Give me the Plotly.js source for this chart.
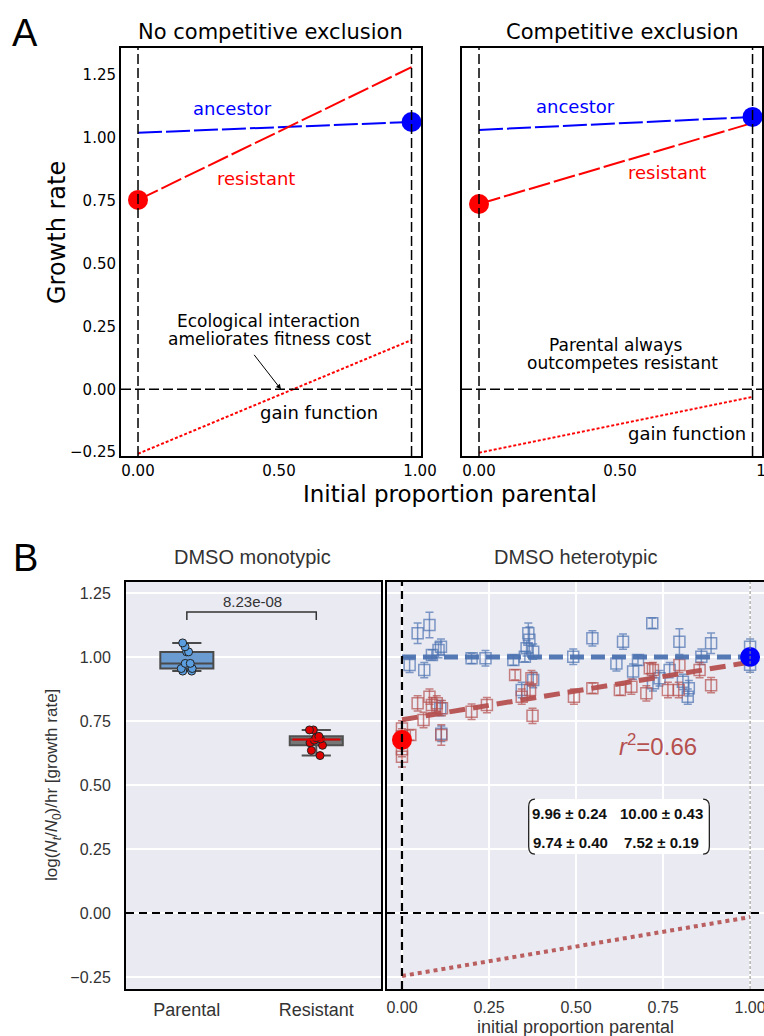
<!DOCTYPE html>
<html><head><meta charset="utf-8">
<script src="https://cdn.plot.ly/plotly-3.0.1.min.js"></script>
<style>html,body{margin:0;padding:0;background:#fff}#chart{width:764px;height:1036px}</style>
</head><body><div id="chart"></div>
<script>
// ---------------- DATA ----------------
// Panel A (schematic) : x positions of the two endpoints (initial proportion parental)
const A_x = [0, 0.97];
// A left: No competitive exclusion
const A1_ancestor = [1.02, 1.063];
const A1_resistant = [0.753, 1.281];
const A1_gain = [-0.256, 0.196];
// A right: Competitive exclusion
const A2_ancestor = [1.031, 1.083];
const A2_resistant = [0.737, 1.059];
const A2_gain = [-0.252, -0.030];

// Panel B left: monotypic growth rates
const monoCategories = ['Parental', 'Resistant'];
const parentalVals = [1.055, 1.04, 1.02, 1.02, 0.975, 0.975, 0.955, 0.955, 0.945, 0.945];
const resistantVals = [0.715, 0.715, 0.69, 0.685, 0.68, 0.675, 0.665, 0.655, 0.635, 0.615];
const pValueText = '8.23e-08';
const bracketY = [1.145, 1.176];

// Panel B right: heterotypic growth rates
const blueX = [0.045,0.079,0.022,0.064,0.086,0.105,0.112,0.110,0.200,0.240,0.320,0.363,0.366,0.358,0.377,0.353,0.377,0.344,0.492,0.547,0.635,0.616,0.664,0.678,0.719,0.721,0.769,0.797,0.807,0.824,0.821,0.860,0.888,1.0,1.0,1.0,0.740,0.113];
const blueY = [1.093,1.125,0.969,0.949,1.008,1.027,1.040,0.800,0.995,0.995,0.988,1.093,1.067,1.034,1.021,1.001,0.910,0.871,1.001,1.073,1.060,0.975,0.943,0.988,1.132,0.897,0.949,1.060,0.903,0.878,0.845,1.001,1.054,1.040,1.000,0.970,0.917,0.700];
const blueErr = [0.04,0.05,0.03,0.03,0.02,0.03,0.03,0.03,0.02,0.03,0.02,0.04,0.05,0.03,0.03,0.02,0.03,0.03,0.03,0.03,0.03,0.03,0.03,0.02,0.02,0.03,0.03,0.05,0.03,0.03,0.03,0.03,0.04,0.03,0.03,0.03,0.03,0.03];
const redX = [0.0,0.0,0.0,0.0,0.024,0.045,0.079,0.062,0.086,0.100,0.115,0.113,0.200,0.244,0.325,0.344,0.372,0.368,0.375,0.494,0.547,0.626,0.659,0.702,0.712,0.721,0.764,0.797,0.795,0.855,0.888];
const redY = [0.721,0.690,0.640,0.610,0.695,0.819,0.845,0.754,0.812,0.819,0.800,0.695,0.786,0.812,0.930,0.845,0.917,0.871,0.770,0.845,0.878,0.871,0.884,0.858,0.956,0.949,0.871,0.969,0.871,0.949,0.890];
const redErr = [0.03,0.03,0.03,0.04,0.02,0.03,0.03,0.03,0.03,0.03,0.03,0.04,0.03,0.03,0.02,0.03,0.03,0.03,0.03,0.03,0.02,0.02,0.03,0.03,0.02,0.03,0.03,0.03,0.03,0.03,0.03];
const B_fitX = [0, 1];
const B_fitBlue = [1.0, 1.0];
const B_fitRed = [0.755, 0.98];
const B_gain = [-0.246, -0.016];
const B_markerX = [0, 1];
const B_markerY = [0.676, 1.0];
const r2Text = '<i>r</i><sup>2</sup>=0.66';
const matrixText = [['9.96 ± 0.24', '10.00 ± 0.43'], ['9.74 ± 0.40', '7.52 ± 0.19']];

const yTicksA = [-0.25, 0, 0.25, 0.5, 0.75, 1.0, 1.25];
const yTicksB = [-0.25, 0, 0.25, 0.5, 0.75, 1.0, 1.25];
const xTicksA1 = ['0.00', '0.50', '1.00'];
const xTicksA2 = ['0.00', '0.50', '1'];
const xTicksB = [0, 0.25, 0.5, 0.75, 1.0];

// ---------------- LAYOUT HELPERS ----------------
const W = 764, H = 1036;
const px = x => x / W;
const py = y => 1 - y / H;
const DJ = 'DejaVu Sans';
const LS = 'Liberation Sans, Arial, sans-serif';
const blueC = 'rgba(76,114,176,0.7)';
const redC = 'rgba(181,80,79,0.7)';

const traces = [];
// ----- Panel A left -----
traces.push({x: A_x, y: A1_ancestor, xaxis: 'x', yaxis: 'y', mode: 'lines', line: {color: '#0000ff', width: 2, dash: '24px,4px'}, showlegend: false, hoverinfo: 'skip'});
traces.push({x: A_x, y: A1_resistant, xaxis: 'x', yaxis: 'y', mode: 'lines', line: {color: '#ff0000', width: 2, dash: '22px,4px'}, showlegend: false, hoverinfo: 'skip'});
traces.push({x: A_x, y: A1_gain, xaxis: 'x', yaxis: 'y', mode: 'lines', line: {color: '#ff0000', width: 2, dash: '3px,2px'}, showlegend: false, hoverinfo: 'skip'});
traces.push({x: [A_x[0]], y: [A1_resistant[0]], xaxis: 'x', yaxis: 'y', mode: 'markers', marker: {color: '#ff0000', size: 20}, showlegend: false, hoverinfo: 'skip', cliponaxis: false});
traces.push({x: [A_x[1]], y: [A1_ancestor[1]], xaxis: 'x', yaxis: 'y', mode: 'markers', marker: {color: '#0000ff', size: 20}, showlegend: false, hoverinfo: 'skip', cliponaxis: false});
// ----- Panel A right -----
traces.push({x: A_x, y: A2_ancestor, xaxis: 'x2', yaxis: 'y2', mode: 'lines', line: {color: '#0000ff', width: 2, dash: '24px,4px'}, showlegend: false, hoverinfo: 'skip'});
traces.push({x: A_x, y: A2_resistant, xaxis: 'x2', yaxis: 'y2', mode: 'lines', line: {color: '#ff0000', width: 2, dash: '22px,4px'}, showlegend: false, hoverinfo: 'skip'});
traces.push({x: A_x, y: A2_gain, xaxis: 'x2', yaxis: 'y2', mode: 'lines', line: {color: '#ff0000', width: 2, dash: '3px,2px'}, showlegend: false, hoverinfo: 'skip'});
traces.push({x: [A_x[0]], y: [A2_resistant[0]], xaxis: 'x2', yaxis: 'y2', mode: 'markers', marker: {color: '#ff0000', size: 20}, showlegend: false, hoverinfo: 'skip', cliponaxis: false});
traces.push({x: [A_x[1]], y: [A2_ancestor[1]], xaxis: 'x2', yaxis: 'y2', mode: 'markers', marker: {color: '#0000ff', size: 20}, showlegend: false, hoverinfo: 'skip', cliponaxis: false});

// ----- Panel B left: boxes -----
const boxW = 0.41;
traces.push({type: 'box', y: parentalVals, x0: 0, xaxis: 'x3', yaxis: 'y3', width: boxW, fillcolor: '#6a9bd1', line: {color: '#4a4a4a', width: 2}, whiskerwidth: 0.55, boxpoints: 'all', jitter: 0.35, pointpos: 0, marker: {color: '#5b9ee0', size: 8, line: {color: '#222', width: 1}}, showlegend: false, hoverinfo: 'skip'});
traces.push({type: 'box', y: resistantVals, x0: 1, xaxis: 'x3', yaxis: 'y3', width: boxW, fillcolor: '#767676', line: {color: '#505050', width: 2}, whiskerwidth: 0.55, boxpoints: 'all', jitter: 0.35, pointpos: 0, marker: {color: '#e00000', size: 8, line: {color: '#222', width: 1}}, showlegend: false, hoverinfo: 'skip'});

// ----- Panel B right -----
traces.push({x: B_fitX, y: B_gain, xaxis: 'x4', yaxis: 'y4', mode: 'lines', line: {color: 'rgba(181,80,79,0.9)', width: 4, dash: 'dot'}, showlegend: false, hoverinfo: 'skip'});
traces.push({x: blueX, y: blueY, xaxis: 'x4', yaxis: 'y4', mode: 'markers', marker: {symbol: 'square-open', size: 11, color: blueC, line: {width: 1.5, color: blueC}}, error_y: {type: 'data', array: blueErr, color: blueC, thickness: 1.5, width: 4}, showlegend: false, hoverinfo: 'skip'});
traces.push({x: redX, y: redY, xaxis: 'x4', yaxis: 'y4', mode: 'markers', marker: {symbol: 'square-open', size: 11, color: redC, line: {width: 1.5, color: redC}}, error_y: {type: 'data', array: redErr, color: redC, thickness: 1.5, width: 4}, showlegend: false, hoverinfo: 'skip'});
traces.push({x: B_fitX, y: B_fitBlue, xaxis: 'x4', yaxis: 'y4', mode: 'lines', line: {color: 'rgba(76,114,176,0.95)', width: 5, dash: '14px,7px'}, showlegend: false, hoverinfo: 'skip'});
traces.push({x: B_fitX, y: B_fitRed, xaxis: 'x4', yaxis: 'y4', mode: 'lines', line: {color: 'rgba(181,80,79,0.95)', width: 5, dash: '16px,8px'}, showlegend: false, hoverinfo: 'skip'});
traces.push({x: B_markerX, y: B_markerY, xaxis: 'x4', yaxis: 'y4', mode: 'markers', marker: {color: ['#ff0000', '#0000ff'], size: 20}, showlegend: false, hoverinfo: 'skip', cliponaxis: false});

// ---------------- SHAPES ----------------
const shapes = [];
// B backgrounds
['x3', 'x4'].forEach((xa, i) => {
  const ya = i === 0 ? 'y3' : 'y4';
  shapes.push({type: 'rect', xref: xa + ' domain', yref: ya + ' domain', x0: 0, x1: 1, y0: 0, y1: 1, fillcolor: '#eaeaf2', line: {width: 0}, layer: 'below'});
});
// A dashed reference lines
[['x', 'y'], ['x2', 'y2']].forEach(([xa, ya]) => {
  A_x.forEach(xv => shapes.push({type: 'line', xref: xa, yref: ya + ' domain', x0: xv, x1: xv, y0: 0, y1: 1, line: {color: '#000', width: 1.5, dash: '10px,4px'}}));
  shapes.push({type: 'line', xref: xa + ' domain', yref: ya, x0: 0, x1: 1, y0: 0, y1: 0, line: {color: '#000', width: 1.5, dash: '10px,4px'}});
});
// B zero lines
shapes.push({type: 'line', xref: 'x3 domain', yref: 'y3', x0: 0, x1: 1, y0: 0, y1: 0, line: {color: '#000', width: 2.2, dash: '8px,5px'}});
shapes.push({type: 'line', xref: 'x4 domain', yref: 'y4', x0: 0, x1: 1, y0: 0, y1: 0, line: {color: '#000', width: 2.2, dash: '8px,5px'}});
shapes.push({type: 'line', xref: 'x4', yref: 'y4 domain', x0: 0, x1: 0, y0: 0, y1: 1, line: {color: '#000', width: 2.2, dash: '8px,5px'}});
shapes.push({type: 'line', xref: 'x4', yref: 'y4 domain', x0: 1, x1: 1, y0: 0, y1: 1, line: {color: '#888', width: 1, dash: '3px,2px'}});
// resistant median in red
const med = arr => { const s = [...arr].sort((a, b) => a - b); const n = s.length; return n % 2 ? s[(n - 1) / 2] : (s[n / 2 - 1] + s[n / 2]) / 2; };
shapes.push({type: 'line', xref: 'x3', yref: 'y3', x0: 1 - boxW / 2 + 0.02, x1: 1 + boxW / 2 - 0.02, y0: med(resistantVals), y1: med(resistantVals), line: {color: '#e00000', width: 2}});
// significance bracket
shapes.push({type: 'path', xref: 'x3', yref: 'y3', path: `M0,${bracketY[0]} L0,${bracketY[1]} L1,${bracketY[1]} L1,${bracketY[0]}`, line: {color: '#333', width: 1.5}});
// matrix box
const mx0 = 0.364, mx1 = 0.883, my0 = 0.23, my1 = 0.445, rx = 0.018, ry = 0.03;
shapes.push({type: 'rect', xref: 'x4', yref: 'y4', x0: mx0, x1: mx1, y0: my0, y1: my1, fillcolor: '#fff', line: {width: 0}});
shapes.push({type: 'path', xref: 'x4', yref: 'y4', path: `M${mx0 + rx},${my1} Q${mx0},${my1} ${mx0},${my1 - ry} L${mx0},${my0 + ry} Q${mx0},${my0} ${mx0 + rx},${my0}`, line: {color: '#222', width: 1.3}});
shapes.push({type: 'path', xref: 'x4', yref: 'y4', path: `M${mx1 - rx},${my1} Q${mx1},${my1} ${mx1},${my1 - ry} L${mx1},${my0 + ry} Q${mx1},${my0} ${mx1 - rx},${my0}`, line: {color: '#222', width: 1.3}});

// ---------------- ANNOTATIONS ----------------
const ann = [];
const T = (text, x, y, size, color, family, extra) => ann.push(Object.assign({text, x: px(x), y: py(y), xref: 'paper', yref: 'paper', showarrow: false, xanchor: 'center', yanchor: 'middle', font: {size, color, family}}, extra || {}));
T('A', 25, 33, 38, '#000', LS);
T('B', 25, 558, 38, '#000', LS);
T('No competitive exclusion', 270, 32, 21, '#000', DJ);
T('Competitive exclusion', 622, 32, 21, '#000', DJ);
T('Growth rate', 57, 233, 24, '#000', DJ, {textangle: -90});
T('Initial proportion parental', 450, 494, 23, '#000', DJ);
T('ancestor', 233, 108, 18, '#0000ff', DJ);
T('resistant', 256, 178, 18, '#ff0000', DJ);
T('Ecological interaction', 268, 321, 17, '#000', DJ);
T('ameliorates fitness cost', 269, 339, 17, '#000', DJ);
T('gain function', 319, 412, 18, '#000', DJ);
T('ancestor', 575, 107, 18, '#0000ff', DJ);
T('resistant', 667, 172, 18, '#ff0000', DJ);
T('Parental always', 615, 345, 17, '#000', DJ);
T('outcompetes resistant', 622, 363, 17, '#000', DJ);
T('gain function', 687, 433, 18, '#000', DJ);
// arrow to crossing point
ann.push({x: 0.507, y: 0, xref: 'x', yref: 'y', ax: -28, ay: -36, text: '', showarrow: true, arrowhead: 2, arrowsize: 1, arrowwidth: 1, arrowcolor: '#000'});
// B texts
T('DMSO monotypic', 252, 557, 20, '#333', LS);
T('DMSO heterotypic', 575, 557, 20, '#333', LS);
T('log(<i>N<sub>t</sub></i>/<i>N</i><sub>0</sub>)/hr [growth rate]', 53, 785, 17, '#333', LS, {textangle: -90});
T('initial proportion parental', 575, 1027, 18, '#333', LS);
T(pValueText, 252, 601, 15, '#333', LS);
T(r2Text, 658, 745, 24, '#b5504f', LS);
const colX = [570, 661], rowY = [813, 842];
matrixText.forEach((row, i) => row.forEach((t, j) => T('<b>' + t + '</b>', colX[j], rowY[i], 15, '#111', LS)));

// ---------------- AXES ----------------
const axA_y = {domain: [py(456), py(48)], range: [-0.265, 1.357], tickvals: yTicksA, tickformat: '.2f', showgrid: false, zeroline: false, showline: true, mirror: true, linecolor: '#000', linewidth: 2, ticks: '', tickfont: {family: DJ, size: 15, color: '#000'}};
const axA_x = {range: [-0.0603, 1.0035], tickvals: [0, 0.5, 1], showgrid: false, zeroline: false, showline: true, mirror: true, linecolor: '#000', linewidth: 2, ticks: '', ticklabeloverflow: 'allow', tickfont: {family: DJ, size: 15, color: '#000'}};
const layout = {
  width: W, height: H, margin: {l: 0, r: 0, t: 0, b: 0}, paper_bgcolor: '#fff', plot_bgcolor: 'rgba(0,0,0,0)', showlegend: false,
  xaxis: Object.assign({}, axA_x, {domain: [px(121), px(421)], anchor: 'y', ticktext: xTicksA1}),
  yaxis: Object.assign({}, axA_y, {anchor: 'x'}),
  xaxis2: Object.assign({}, axA_x, {domain: [px(462), px(762)], anchor: 'y2', ticktext: xTicksA2}),
  yaxis2: Object.assign({}, axA_y, {anchor: 'x2', showticklabels: false}),
  xaxis3: {domain: [px(126), px(381)], anchor: 'y3', range: [-0.47, 1.5], tickvals: [0, 1], ticktext: monoCategories, showgrid: false, zeroline: false, showline: true, mirror: true, linecolor: '#000', linewidth: 2, ticks: 'outside', ticklen: 3, tickcolor: 'rgba(0,0,0,0)', tickfont: {family: LS, size: 18, color: '#333'}},
  yaxis3: {domain: [py(989), py(582)], anchor: 'x3', range: [-0.297, 1.293], tickvals: yTicksB, tickformat: '.2f', showgrid: true, gridcolor: '#fff', gridwidth: 1.5, zeroline: false, showline: true, mirror: true, linecolor: '#000', linewidth: 2, ticks: 'outside', ticklen: 10, tickcolor: 'rgba(0,0,0,0)', tickfont: {family: LS, size: 16, color: '#333'}},
  xaxis4: {domain: [px(387), 1], anchor: 'y4', range: [-0.043, 1.04], tickvals: xTicksB, tickformat: '.2f', showgrid: true, gridcolor: '#fff', gridwidth: 1.5, zeroline: false, showline: true, mirror: true, linecolor: '#000', linewidth: 2, ticks: 'outside', ticklen: 3, tickcolor: 'rgba(0,0,0,0)', ticklabeloverflow: 'allow', tickfont: {family: LS, size: 16, color: '#333'}},
  yaxis4: {domain: [py(989), py(582)], anchor: 'x4', range: [-0.297, 1.293], tickvals: yTicksB, showticklabels: false, showgrid: true, gridcolor: '#fff', gridwidth: 1.5, zeroline: false, showline: true, mirror: false, linecolor: '#000', linewidth: 2, ticks: ''},
  shapes, annotations: ann
};
Plotly.newPlot('chart', traces, layout, {staticPlot: true, displayModeBar: false});
</script>
</body></html>
